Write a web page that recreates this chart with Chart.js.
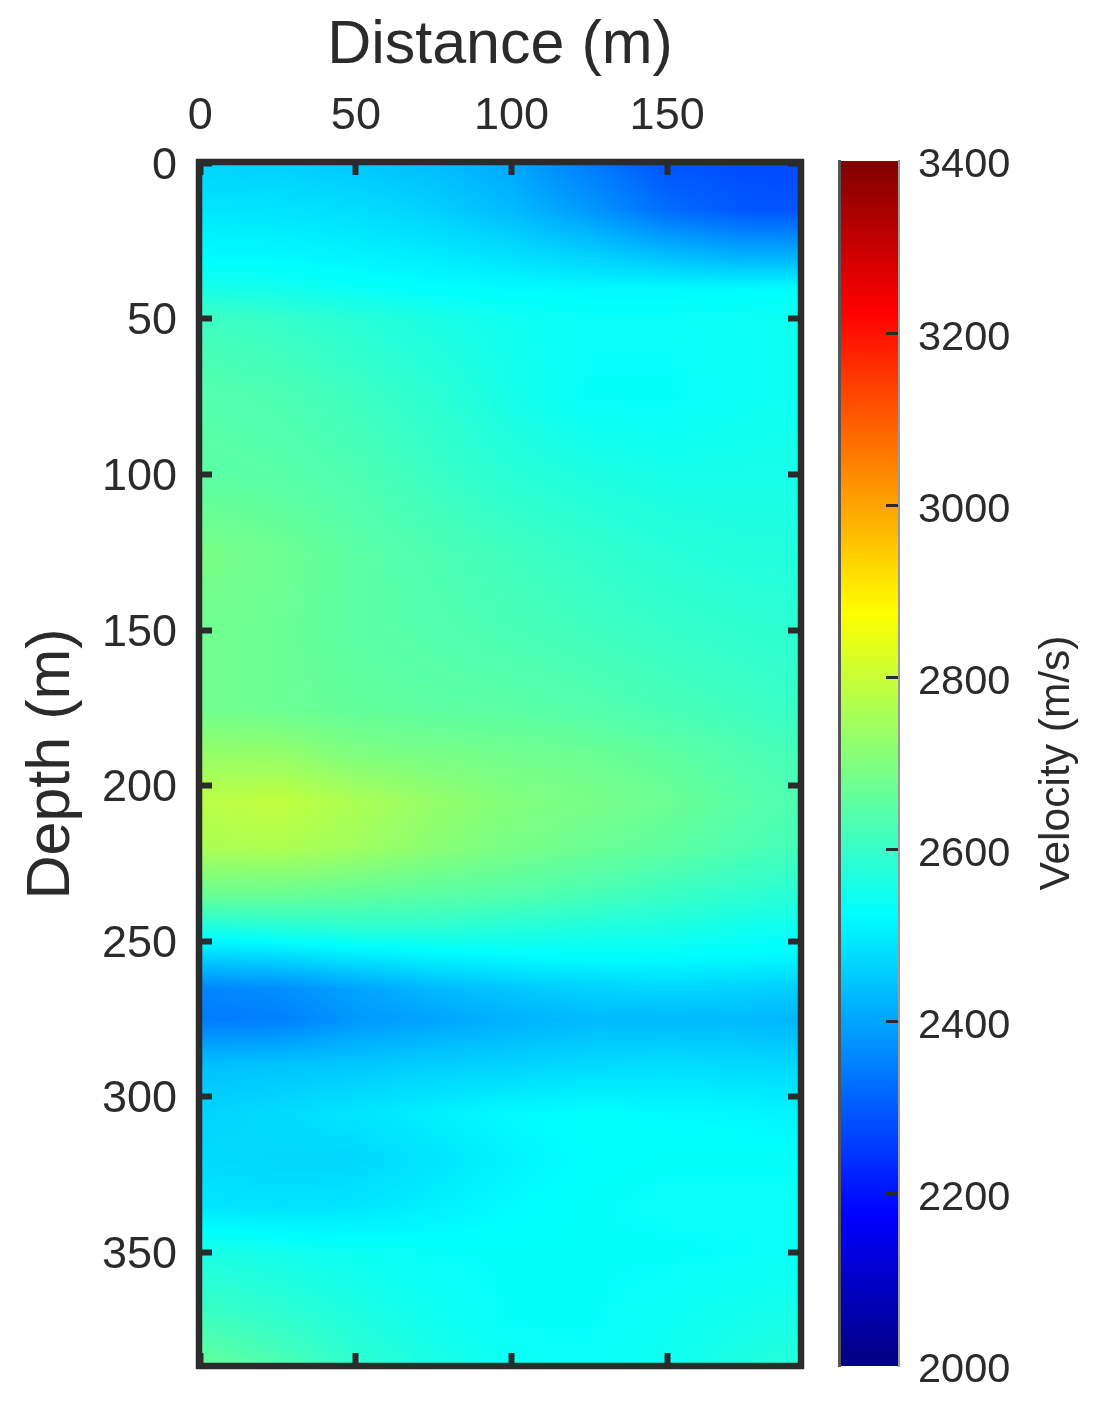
<!DOCTYPE html>
<html>
<head>
<meta charset="utf-8">
<script src="https://cdn.jsdelivr.net/npm/chart.js@4"></script>
<style>
html,body{margin:0;padding:0;background:#fff;width:1096px;height:1406px;overflow:hidden}
canvas{position:absolute;top:0;filter:blur(0.6px)}
</style>
</head>
<body>
<canvas id="heat" width="1096" height="1406" style="left:0"></canvas>
<canvas id="bar" width="266" height="1406" style="left:830px"></canvas>
<script>
const distances = [0, 25, 50, 75, 100, 125, 150, 175, 193];
const depths = [0, 15, 30, 40, 50, 75, 100, 125, 150, 175, 190, 205, 220, 235, 245, 255, 265, 275, 290, 305, 320, 335, 350, 370, 386];
const velocity = [
  [2465, 2460, 2450, 2435, 2405, 2345, 2290, 2278, 2275],
  [2490, 2488, 2480, 2462, 2432, 2385, 2325, 2295, 2290],
  [2520, 2518, 2510, 2500, 2485, 2465, 2440, 2420, 2420],
  [2555, 2548, 2535, 2525, 2520, 2515, 2515, 2518, 2520],
  [2610, 2600, 2580, 2560, 2545, 2535, 2535, 2540, 2545],
  [2640, 2630, 2610, 2585, 2555, 2530, 2530, 2540, 2545],
  [2650, 2645, 2630, 2605, 2580, 2565, 2555, 2555, 2555],
  [2690, 2675, 2650, 2630, 2612, 2595, 2580, 2572, 2572],
  [2680, 2670, 2650, 2638, 2625, 2612, 2600, 2590, 2585],
  [2680, 2670, 2660, 2652, 2648, 2638, 2622, 2610, 2600],
  [2730, 2730, 2700, 2690, 2680, 2672, 2655, 2632, 2618],
  [2780, 2790, 2760, 2730, 2705, 2690, 2672, 2645, 2630],
  [2760, 2765, 2745, 2715, 2690, 2672, 2655, 2632, 2618],
  [2670, 2670, 2660, 2650, 2640, 2625, 2605, 2588, 2580],
  [2570, 2580, 2590, 2590, 2580, 2570, 2565, 2550, 2545],
  [2465, 2475, 2495, 2510, 2520, 2525, 2525, 2520, 2515],
  [2360, 2370, 2400, 2430, 2450, 2465, 2470, 2465, 2460],
  [2345, 2350, 2385, 2400, 2420, 2430, 2430, 2430, 2425],
  [2440, 2445, 2450, 2460, 2465, 2475, 2480, 2475, 2470],
  [2465, 2475, 2490, 2505, 2520, 2525, 2520, 2515, 2510],
  [2475, 2470, 2470, 2490, 2510, 2525, 2530, 2530, 2530],
  [2490, 2485, 2490, 2505, 2520, 2530, 2535, 2535, 2535],
  [2560, 2550, 2540, 2532, 2530, 2530, 2530, 2532, 2538],
  [2610, 2590, 2565, 2545, 2530, 2530, 2540, 2550, 2555],
  [2665, 2630, 2590, 2560, 2540, 2535, 2545, 2565, 2580]
];
const distanceTicks = [0, 50, 100, 150];
const depthTicks = [0, 50, 100, 150, 200, 250, 300, 350];
const colorTicks = [2000, 2200, 2400, 2600, 2800, 3000, 3200, 3400];
const colorRange = [2000, 3400];

const INK = '#2b2b2b';
const FONT = '"Liberation Sans", Arial, sans-serif';

function jet(v) {
  const t = Math.min(1, Math.max(0, (v - colorRange[0]) / (colorRange[1] - colorRange[0])));
  const ch = c => Math.round(255 * Math.min(1, Math.max(0, 1.5 - Math.abs(4 * t - c))));
  return [ch(3), ch(2), ch(1)];
}
function gridPos(list, v) {
  if (v <= list[0]) return [0, 0];
  for (let i = 0; i < list.length - 1; i++) {
    if (v <= list[i + 1]) return [i, (v - list[i]) / (list[i + 1] - list[i])];
  }
  return [list.length - 2, 1];
}
function shade(dx, dy) {
  const [c, u] = gridPos(distances, dx);
  const [r, w] = gridPos(depths, dy);
  const a = velocity[r], b = velocity[r + 1];
  return (a[c] * (1 - u) + a[c + 1] * u) * (1 - w) + (b[c] * (1 - u) + b[c + 1] * u) * w;
}

// each grid value is one scatter point whose marker is a smooth-shaded tile
const heatPoints = [];
depths.forEach((d, r) => distances.forEach((x, c) => heatPoints.push({x: x, y: d, r: r, c: c})));
const tiles = {};
function tile(ctx) {
  if (ctx.type !== 'data' || !ctx.chart.chartArea) return 'rect';
  const key = ctx.dataIndex;
  if (tiles[key]) return tiles[key];
  const p = heatPoints[key];
  const xs = ctx.chart.scales.x, ys = ctx.chart.scales.y;
  const nx = xs.getPixelForValue(p.x), ny = ys.getPixelForValue(p.y);
  const gapX = Math.max(p.c > 0 ? nx - xs.getPixelForValue(distances[p.c - 1]) : 0,
                        p.c < distances.length - 1 ? xs.getPixelForValue(distances[p.c + 1]) - nx : 0);
  const gapY = Math.max(p.r > 0 ? ny - ys.getPixelForValue(depths[p.r - 1]) : 0,
                        p.r < depths.length - 1 ? ys.getPixelForValue(depths[p.r + 1]) - ny : 0);
  const hx = Math.ceil(gapX / 2) + 3, hy = Math.ceil(gapY / 2) + 3;
  const cv = document.createElement('canvas');
  cv.width = hx * 2; cv.height = hy * 2;
  const g = cv.getContext('2d');
  const img = g.createImageData(cv.width, cv.height);
  for (let j = 0; j < cv.height; j++) {
    const dy = ys.getValueForPixel(ny - hy + j + 0.5);
    for (let i = 0; i < cv.width; i++) {
      const dx = xs.getValueForPixel(nx - hx + i + 0.5);
      const col = jet(shade(dx, dy));
      const o = (j * cv.width + i) * 4;
      img.data[o] = col[0]; img.data[o + 1] = col[1]; img.data[o + 2] = col[2]; img.data[o + 3] = 255;
    }
  }
  g.putImageData(img, 0, 0);
  tiles[key] = cv;
  return cv;
}

function innerGrid(width) {
  return {display: true, drawOnChartArea: false, drawTicks: true, tickLength: -13, tickWidth: width, tickColor: INK, z: 1};
}
const frame = {
  id: 'frame',
  afterDraw(chart) {
    const a = chart.chartArea, c = chart.ctx;
    c.save();
    c.strokeStyle = INK; c.lineWidth = 6.5;
    c.strokeRect(a.left, a.top, a.right - a.left, a.bottom - a.top);
    c.restore();
  }
};
// nudges an axis's tick labels down by a few pixels
const nudgeLabels = (id, dy) => ({
  id: 'nudge-' + id,
  beforeDraw(chart) {
    chart.scales[id].getLabelItems(chart.chartArea).forEach(it => { it.options.translation[1] += dy; });
  }
});
const fix = (prop, val) => (s => {
  s[prop] = val;
  s.paddingTop = s.paddingBottom = s.paddingLeft = s.paddingRight = 0;
});
const fromTicks = list => (s => { s.ticks = list.map(v => ({value: v})); });
const plain = v => String(v);

new Chart(document.getElementById('heat'), {
  type: 'scatter',
  data: {datasets: [{
    data: heatPoints, showLine: false, clip: 0, pointRadius: 1, pointHoverRadius: 1,
    pointBorderWidth: 0, pointStyle: tile, xAxisID: 'x', yAxisID: 'y'
  }]},
  options: {
    responsive: false, animation: false, events: [],
    layout: {padding: 0},
    plugins: {legend: {display: false}, tooltip: {enabled: false}},
    scales: {
      x: {
        type: 'linear', position: 'top', min: -0.4, max: 193,
        afterBuildTicks: fromTicks(distanceTicks), afterFit: fix('height', 162),
        grid: innerGrid(6), border: {display: false},
        ticks: {color: INK, font: {family: FONT, size: 45}, padding: 13 + 18, maxRotation: 0, autoSkip: false, callback: plain},
        title: {display: true, text: 'Distance (m)', color: INK, font: {family: FONT, size: 61}, padding: {top: 10, bottom: 0}}
      },
      x2: {
        type: 'linear', position: 'bottom', min: -0.4, max: 193,
        afterBuildTicks: fromTicks(distanceTicks), afterFit: fix('height', 40),
        grid: innerGrid(6), border: {display: false}, ticks: {display: false}
      },
      y: {
        type: 'linear', position: 'left', reverse: true, min: -0.45, max: 386.5,
        afterBuildTicks: fromTicks(depthTicks), afterFit: fix('width', 199),
        grid: innerGrid(6), border: {display: false},
        ticks: {color: INK, font: {family: FONT, size: 45}, padding: 13 + 22, autoSkip: false, callback: plain},
        title: {display: true, text: 'Depth (m)', color: INK, font: {family: FONT, size: 61}, padding: {top: 16, bottom: 0}}
      },
      y2: {
        type: 'linear', position: 'right', reverse: true, min: -0.45, max: 386.5,
        afterBuildTicks: fromTicks(depthTicks), afterFit: fix('width', 295),
        grid: innerGrid(6), border: {display: false}, ticks: {display: false}
      }
    }
  },
  plugins: [frame, nudgeLabels('y', 3)]
});

const barFill = ctx => {
  const a = ctx.chart.chartArea, ys = ctx.chart.scales.y;
  if (!a) return '#00f';
  const g = ctx.chart.ctx.createLinearGradient(0, a.bottom, 0, a.top);
  for (let v = colorRange[0]; v <= colorRange[1]; v += 25) {
    const c = jet(v);
    g.addColorStop((ys.getPixelForValue(v) - a.bottom) / (a.top - a.bottom), 'rgb(' + c.join(',') + ')');
  }
  return g;
};
const barTitle = {
  id: 'barTitle',
  afterDraw(chart) {
    const c = chart.ctx;
    c.save();
    c.translate(1057 - 830, 763);
    c.rotate(-Math.PI / 2);
    c.fillStyle = INK;
    c.font = '42.5px ' + FONT;
    c.textAlign = 'center'; c.textBaseline = 'middle';
    c.fillText('Velocity (m/s)', 0, 0);
    c.restore();
  }
};
new Chart(document.getElementById('bar'), {
  type: 'bar',
  data: {labels: ['Velocity'], datasets: [{
    data: [colorRange], backgroundColor: barFill, borderWidth: 0,
    barPercentage: 1, categoryPercentage: 1, yAxisID: 'y', xAxisID: 'x'
  }]},
  options: {
    responsive: false, animation: false, events: [],
    layout: {padding: {top: 161, left: 0, right: 0, bottom: 0}},
    plugins: {legend: {display: false}, tooltip: {enabled: false}},
    scales: {
      x: {
        position: 'bottom', afterFit: fix('height', 40),
        grid: {display: false}, border: {display: false}, ticks: {display: false}
      },
      y: {
        type: 'linear', position: 'right', min: colorRange[0], max: colorRange[1],
        afterBuildTicks: fromTicks(colorTicks), afterFit: fix('width', 197),
        grid: {display: true, drawOnChartArea: false, tickLength: -13, tickWidth: 3, z: 1,
               tickColor: c => (c.tick && (c.tick.value === colorRange[0] || c.tick.value === colorRange[1])) ? 'rgba(0,0,0,0)' : INK},
        border: {display: true, width: 2, color: '#9a9a9a', z: 1},
        ticks: {color: INK, font: {family: FONT, size: 41.5}, padding: 13 + 19, autoSkip: false, callback: plain}
      },
      yl: {
        type: 'linear', position: 'left', min: colorRange[0], max: colorRange[1],
        afterFit: fix('width', 9),
        grid: {display: false}, border: {display: true, width: 3, color: '#555', z: 1}, ticks: {display: false}
      }
    }
  },
  plugins: [barTitle, nudgeLabels('y', 5)]
});
</script>
</body>
</html>
